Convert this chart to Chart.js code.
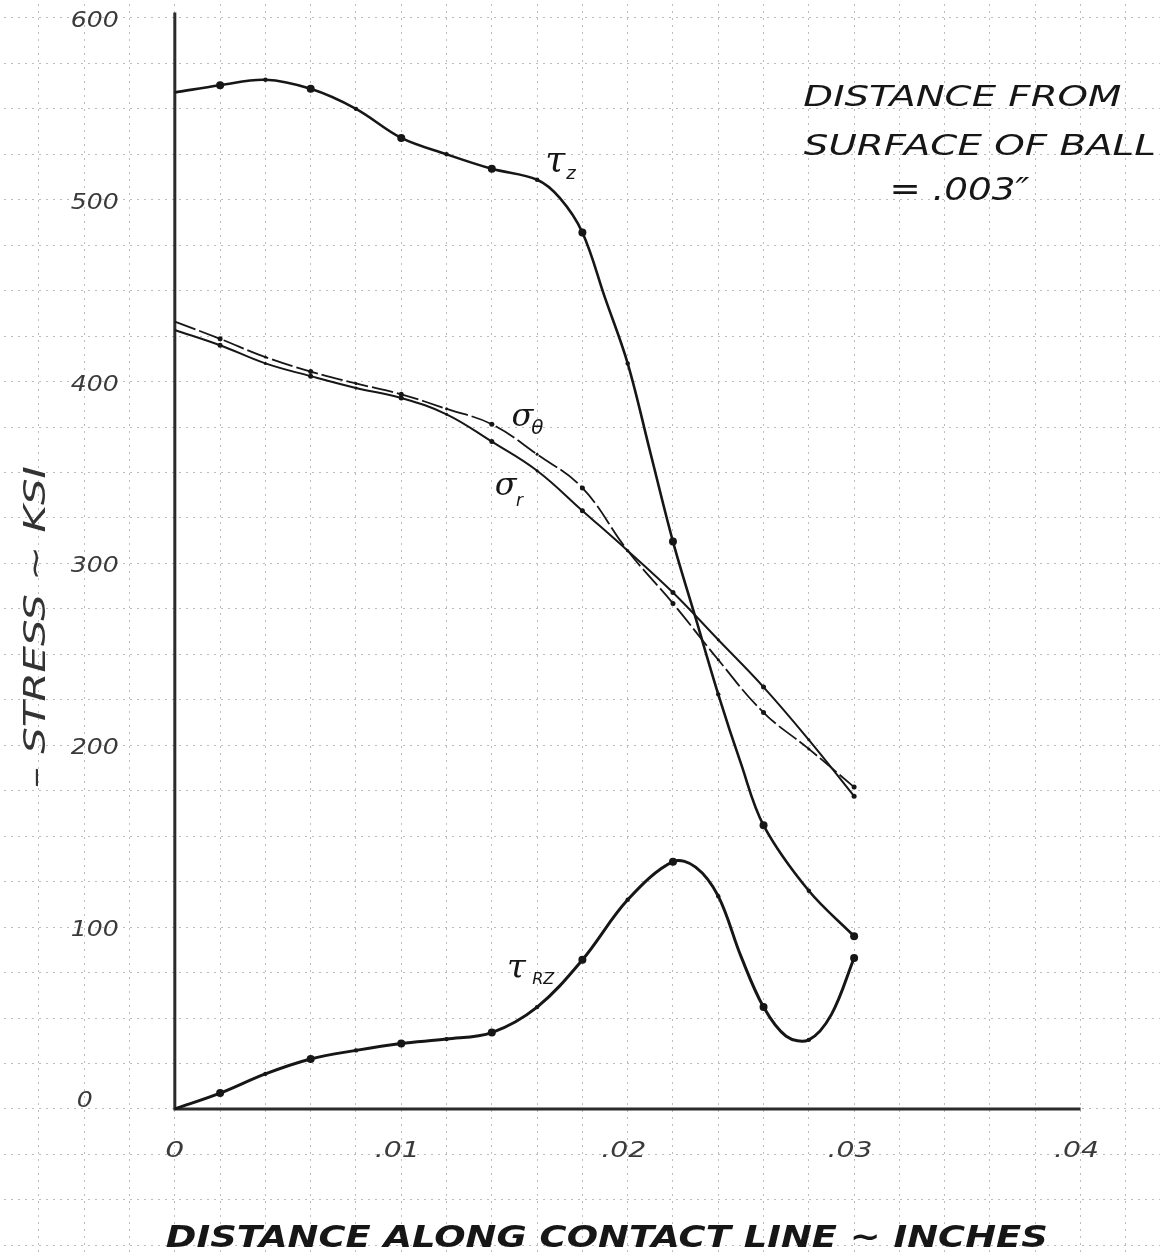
<!DOCTYPE html>
<html>
<head>
<meta charset="utf-8">
<script src="https://cdn.jsdelivr.net/npm/chart.js@4/dist/chart.umd.min.js"></script>
<style>
  html, body { margin: 0; padding: 0; background: #fff; }
  canvas { display: block; }
</style>
</head>
<body>
<canvas id="c" width="1164" height="1258"></canvas>
<script>
// ---- stresses along the contact line, 0.003" below the ball surface ----
// distance along contact line (inches) and stress (ksi, plotted as -stress)
const X_TAU_Z = [0, .002, .004, .006, .008, .010, .012, .014, .016, .017, .018, .019, .020, .021, .022, .023, .024, .025, .026, .028, .030];
const TAU_Z   = [559, 563, 566, 561, 550, 534, 525, 517, 511, 501, 482, 446, 410, 361, 312, 270, 228, 190, 156, 120, 95];

const X_SIGMA     = [0, .002, .004, .006, .008, .010, .012, .014, .016, .018, .020, .022, .024, .026, .028, .030];
const SIGMA_THETA = [433, 423.5, 413.5, 405.5, 399, 393, 385, 376.5, 360, 341.5, 307, 278, 247, 218, 198, 177];
const SIGMA_R     = [428.4, 420, 410, 403, 396.5, 391, 382, 367, 351, 329, 307, 284, 258, 232, 203, 172];

const X_TAU_RZ = [0, .002, .004, .006, .008, .010, .012, .014, .016, .018, .020, .022, .023, .024, .025, .026, .027, .028, .029, .030];
const TAU_RZ   = [0, 8.7, 19.3, 27.5, 32.2, 36, 38.4, 42, 56, 82, 115, 136, 133, 117, 84, 56, 40, 38, 52, 83];

// axis ticks
const X_TICK_VALUES = [0, .01, .02, .03, .04];
const X_TICK_LABELS = ['0', '.01', '.02', '.03', '.04'];
const Y_TICK_VALUES = [0, 100, 200, 300, 400, 500, 600];
const Y_TICK_LABELS = ['0', '100', '200', '300', '400', '500', '600'];

// ---- helpers ----
const pts = (xs, ys) => xs.map((x, i) => ({ x: x, y: ys[i] }));

// plotted points: heavy dot every other reading, light dot between
function dotRadius(big, small) {
  return ctx => {
    const r = ctx.raw;
    if (!r) return 0;
    const m = r.x * 1000, k = Math.round(m);
    if (Math.abs(m - k) > 1e-6 || k === 0 || k % 2) return 0;
    return k % 4 === 2 ? big : small;
  };
}

const INK = '#161616';

function curve(data, width, dash, big, small, tension) {
  return {
    data: data,
    borderColor: INK,
    backgroundColor: INK,
    borderWidth: width,
    borderDash: dash,
    tension: tension,
    fill: false,
    pointRadius: dotRadius(big, small),
    pointBorderWidth: 0,
    pointBackgroundColor: INK
  };
}

// draw a string stretched to a given width, centred on (cx, cy)
function fitText(ctx, text, cx, cy, width, size, font, rot, color) {
  ctx.save();
  ctx.font = font.replace('SIZE', size + 'px');
  ctx.fillStyle = color || INK;
  const w = ctx.measureText(text).width;
  ctx.translate(cx, cy);
  if (rot) ctx.rotate(rot);
  if (width) ctx.scale(width / w, 1);
  ctx.textAlign = 'center';
  ctx.textBaseline = 'alphabetic';
  ctx.fillText(text, 0, size * 0.36);
  ctx.restore();
}

function plainText(ctx, text, cx, cy, size, font, color) {
  fitText(ctx, text, cx, cy, 0, size, font, 0, color);
}

const LETTER = 'italic SIZE "DejaVu Sans"';
const LETTER_BOLD = 'italic bold SIZE "DejaVu Sans"';
const GREEK = 'italic SIZE "DejaVu Serif"';

// axis lines, tick labels and lettering drawn on the graph paper
const paper = {
  id: 'paper',
  beforeDatasetsDraw(chart) {
    const { ctx, scales: { x, y } } = chart;
    ctx.save();
    ctx.strokeStyle = '#2b2b2b';
    ctx.lineWidth = 3;
    ctx.lineCap = 'butt';
    ctx.beginPath();
    ctx.moveTo(x.getPixelForValue(0), y.getPixelForValue(603));
    ctx.lineTo(x.getPixelForValue(0), y.getPixelForValue(0));
    ctx.lineTo(x.getPixelForValue(0.04), y.getPixelForValue(0));
    ctx.stroke();
    ctx.restore();
  },
  afterDraw(chart) {
    const { ctx, scales: { x, y } } = chart;
    const x0 = x.getPixelForValue(0), y0 = y.getPixelForValue(0);

    // tick labels
    Y_TICK_VALUES.forEach((v, i) => {
      const lab = Y_TICK_LABELS[i];
      const cx = lab === '0' ? x0 - 90 : x0 - 80;
      const cy = y.getPixelForValue(v) + (v === 0 ? -10 : 1);
      fitText(ctx, lab, cx, cy, lab.length * 16, 22, 'italic 300 SIZE "DejaVu Sans"', 0, '#3a3a3a');
    });
    X_TICK_VALUES.forEach((v, i) => {
      const lab = X_TICK_LABELS[i];
      const cx = x.getPixelForValue(v) - (lab === '0' ? 0 : 4);
      fitText(ctx, lab, cx, y0 + 40, lab.length * 13 + 6, 22, 'italic 300 SIZE "DejaVu Sans"', 0, '#3a3a3a');
    });

    // axis titles
    fitText(ctx, 'DISTANCE ALONG CONTACT LINE ~ INCHES', x0 + 432, y0 + 127, 882, 31, LETTER_BOLD, 0, INK);
    fitText(ctx, '\u2013 STRESS ~ KSI', x0 - 141, y.getPixelForValue(265), 322, 31, LETTER, -Math.PI / 2, '#333');

    // depth note
    fitText(ctx, 'DISTANCE FROM', x.getPixelForValue(0.03478), y.getPixelForValue(557), 318, 28, LETTER, 0, INK);
    fitText(ctx, 'SURFACE OF BALL', x.getPixelForValue(0.03555), y.getPixelForValue(530), 352, 28, LETTER, 0, INK);
    fitText(ctx, '= .003\u2033', x.getPixelForValue(0.03465), y.getPixelForValue(506), 140, 32, LETTER, 0, INK);

    // curve names
    const name = (g, sub, gx, gy, sx, sy, gs, ss) => {
      plainText(ctx, g, x.getPixelForValue(gx), y.getPixelForValue(gy), gs, GREEK, INK);
      plainText(ctx, sub, x.getPixelForValue(sx), y.getPixelForValue(sy), ss, LETTER, INK);
    };
    name('\u03C4', 'z', 0.01680, 523, 0.01750, 515, 36, 18);
    name('\u03C3', '\u03B8', 0.01535, 382, 0.01601, 375, 32, 20);
    name('\u03C3', 'r', 0.01461, 344, 0.01522, 335, 32, 17);
    name('\u03C4', 'RZ', 0.01509, 79, 0.01627, 72, 34, 16);
  }
};

const X_MIN = -0.0075439, X_MAX = 0.0435088;
const Y_MIN = -79.78, Y_MAX = 607.65;

const gridX = [];
for (let k = -3; k <= 21; k++) gridX.push(k * 0.002);
const gridY = [];
for (let k = -3; k <= 24; k++) gridY.push(k * 25);

const gridStyle = { drawTicks: false, color: 'rgba(70,70,70,0.36)', lineWidth: 1 };

new Chart(document.getElementById('c'), {
  type: 'line',
  data: {
    datasets: [
      curve(pts(X_SIGMA, SIGMA_THETA), 1.8, [22, 4], 2.5, 1.5, 0.4),
      curve(pts(X_SIGMA, SIGMA_R), 2.0, [], 2.5, 1.5, 0.4),
      curve(pts(X_TAU_Z, TAU_Z), 2.6, [], 4, 2.2, 0.35),
      curve(pts(X_TAU_RZ, TAU_RZ), 3.0, [], 4, 2.2, 0.35)
    ]
  },
  options: {
    responsive: false,
    animation: false,
    devicePixelRatio: 1,
    layout: { padding: 0 },
    plugins: { legend: { display: false }, tooltip: { enabled: false }, title: { display: false } },
    scales: {
      x: {
        type: 'linear', min: X_MIN, max: X_MAX,
        ticks: { display: false },
        border: { display: false, dash: [2, 5] },
        grid: gridStyle,
        afterBuildTicks: s => { s.ticks = gridX.map(v => ({ value: v })); }
      },
      y: {
        type: 'linear', min: Y_MIN, max: Y_MAX,
        ticks: { display: false },
        border: { display: false, dash: [2, 5] },
        grid: gridStyle,
        afterBuildTicks: s => { s.ticks = gridY.map(v => ({ value: v })); }
      }
    }
  },
  plugins: [paper]
});
</script>
</body>
</html>
